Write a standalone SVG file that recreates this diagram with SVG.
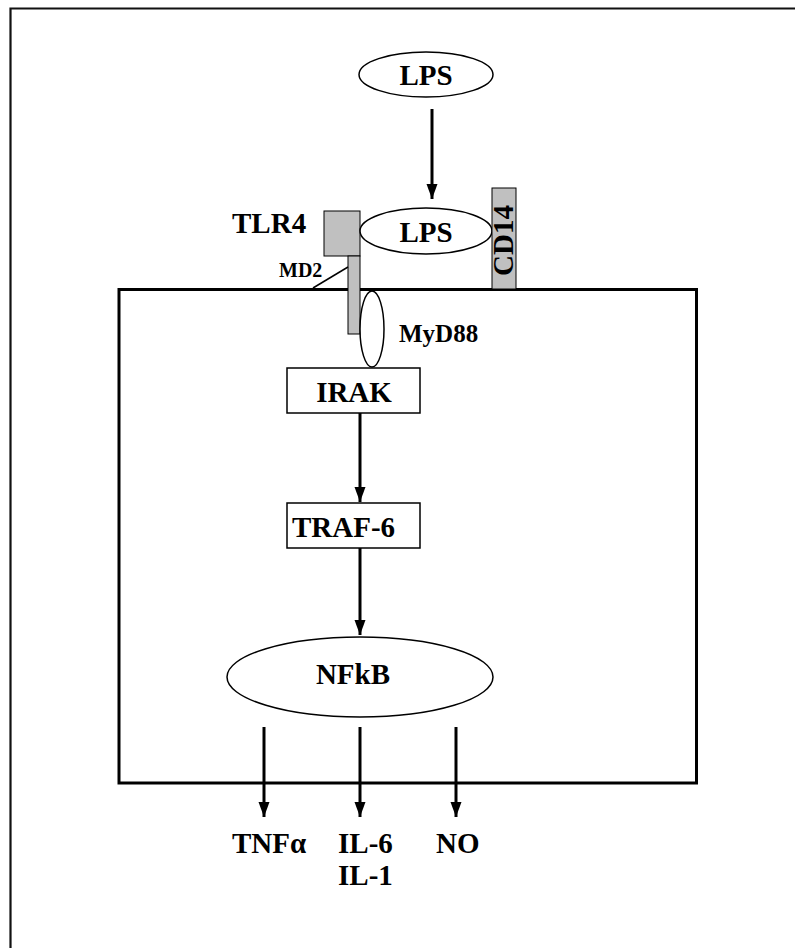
<svg xmlns="http://www.w3.org/2000/svg" width="795" height="948" viewBox="0 0 795 948">
<style>
text{font-family:"Liberation Serif","Times New Roman",serif;font-weight:bold;fill:#000}
.lg{font-size:29px}
.sm{font-size:20px}
.md{font-size:25px}
.shape{fill:#fff;stroke:#000;stroke-width:1.5}
.gray{fill:#c0c0c0;stroke:#000;stroke-width:1}
.arr{stroke:#000;stroke-width:3;fill:none;marker-end:url(#ah)}
</style>
<defs>
<marker id="ah" markerUnits="userSpaceOnUse" markerWidth="16" markerHeight="12" refX="15" refY="6" orient="auto">
<path d="M0,0.5 L15,6 L0,11.5 z" fill="#000"/>
</marker>
</defs>
<rect x="0" y="0" width="795" height="948" fill="#fff"/>
<path d="M10.5,948 V8.5 H795" fill="none" stroke="#111" stroke-width="2.2"/>
<g id="cell"><rect x="119" y="289.5" width="577.5" height="493.5" fill="none" stroke="#000" stroke-width="3"/></g>
<g id="lps-top"><ellipse cx="426" cy="74.5" rx="67" ry="22.5" class="shape"/><text x="426" y="85" class="lg" text-anchor="middle">LPS</text></g>
<g id="tlr4"><rect x="324" y="211" width="36" height="45" class="gray"/><rect x="348" y="256" width="12" height="78" class="gray"/><text x="232" y="233" class="lg">TLR4</text></g>
<g id="md2"><line x1="313" y1="288" x2="348" y2="267" stroke="#000" stroke-width="1.5"/><text x="279" y="277" class="sm">MD2</text></g>
<g id="lps-bound"><ellipse cx="426" cy="231" rx="66" ry="23" class="shape"/><text x="426" y="242" class="lg" text-anchor="middle">LPS</text></g>
<g id="cd14"><rect x="492" y="188" width="24" height="101" class="gray"/><text transform="translate(513,240.5) rotate(-90)" class="lg" text-anchor="middle">CD14</text></g>
<g id="myd88"><ellipse cx="372" cy="329" rx="12" ry="38" class="shape"/><text x="399" y="342" class="md">MyD88</text></g>
<g id="irak"><rect x="287" y="368" width="133" height="45" class="shape"/><text x="354" y="402" class="lg" text-anchor="middle">IRAK</text></g>
<g id="traf6"><rect x="287" y="503" width="133" height="45" class="shape"/><text x="292" y="537" class="lg">TRAF-6</text></g>
<g id="nfkb"><ellipse cx="360" cy="677" rx="133" ry="40" class="shape"/><text x="353" y="684" class="lg" text-anchor="middle">NFkB</text></g>
<g id="tnfa"><text x="232" y="853" class="lg">TNFα</text></g>
<g id="il"><text x="338" y="853" class="lg">IL-6</text><text x="338" y="885" class="lg">IL-1</text></g>
<g id="no"><text x="436" y="853" class="lg">NO</text></g>
<g id="connectors">
<line x1="432" y1="109" x2="432" y2="199" class="arr"/>
<line x1="360" y1="413" x2="360" y2="502" class="arr"/>
<line x1="360" y1="548" x2="360" y2="635" class="arr"/>
<line x1="264" y1="727" x2="264" y2="817" class="arr"/>
<line x1="360" y1="727" x2="360" y2="817" class="arr"/>
<line x1="456" y1="727" x2="456" y2="817" class="arr"/>
</g>
</svg>
